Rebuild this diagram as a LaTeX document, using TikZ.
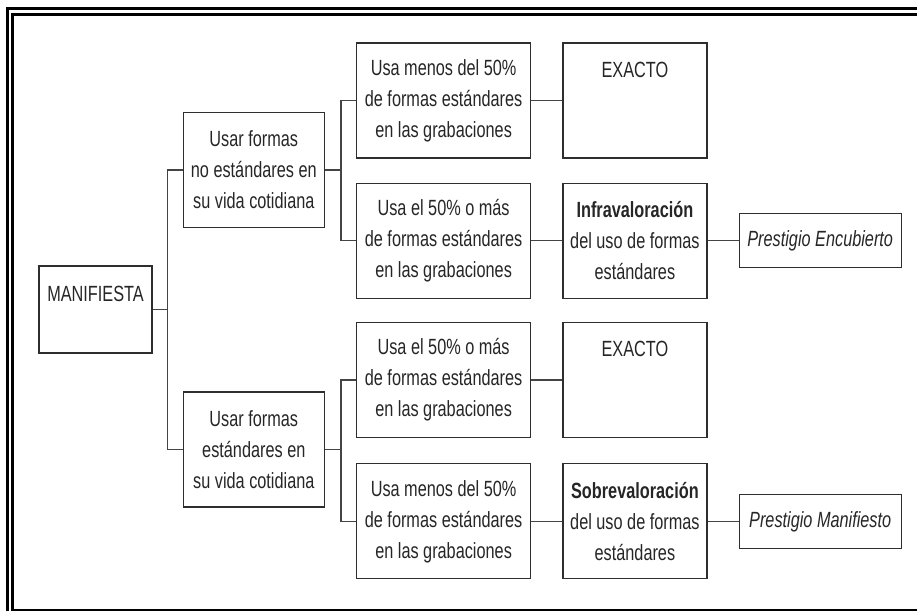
\documentclass[tikz,border=0pt]{standalone}
\usepackage{fontspec}
\setmainfont{Liberation Sans}[FakeStretch=0.74]
\usetikzlibrary{positioning}
\definecolor{boxline}{HTML}{2E2E2E}
\definecolor{wire}{HTML}{444444}

\begin{document}
\begin{tikzpicture}[x=1pt, y=-1pt, font=\fontsize{22}{31}\selectfont, text=black!85,
    box/.style={draw=boxline, line width=1.3pt, align=center, inner sep=2pt, minimum height=115pt},
    link/.style={draw=wire, line width=1.3pt},
    frame/.style={line width=3pt}]
    \useasboundingbox (0,0) rectangle (917,611);
    % marco doble
    \draw[frame] (7.5,611) -- (7.5,8) -- (917,8);
    \draw[frame] (12.5,611) -- (12.5,14.5) -- (917,14.5);
    \draw[line width=1.4pt] (12.5,610) -- (917,610);

    \node[box, minimum width=113pt, minimum height=87pt] (manif) at (95.5,309.5) {MANIFIESTA\\ \mbox{}};
    \node[box, minimum width=141pt, right=30pt of manif, yshift=139.5pt] (noest)
         {Usar formas\\ no estándares en\\ su vida cotidiana};
    \node[box, minimum width=141pt, right=30pt of manif, yshift=-140pt] (est)
         {Usar formas\\ estándares en\\ su vida cotidiana};

    \node[box, minimum width=174pt, right=31pt of noest, yshift=69.5pt] (menos1)
         {Usa menos del 50\%\\ de formas estándares\\ en las grabaciones};
    \node[box, minimum width=174pt, below=24pt of menos1] (mas1)
         {Usa el 50\% o más\\ de formas estándares\\ en las grabaciones};
    \node[box, minimum width=174pt, right=31pt of est, yshift=69.5pt] (mas2)
         {Usa el 50\% o más\\ de formas estándares\\ en las grabaciones};
    \node[box, minimum width=174pt, below=25pt of mas2] (menos2)
         {Usa menos del 50\%\\ de formas estándares\\ en las grabaciones};

    \node[box, minimum width=144pt, right=31pt of menos1] (exacto1) {EXACTO\\ \mbox{}\\ \mbox{}};
    \node[box, minimum width=144pt, right=31pt of mas1] (infra)
         {\textbf{Infravaloración}\\ del uso de formas\\ estándares};
    \node[box, minimum width=144pt, right=31pt of mas2] (exacto2) {EXACTO\\ \mbox{}\\ \mbox{}};
    \node[box, minimum width=144pt, right=31pt of menos2] (sobre)
         {\textbf{Sobrevaloración}\\ del uso de formas\\ estándares};

    \node[box, minimum width=162pt, minimum height=54pt, right=31pt of infra] (encub)
         {\textit{Prestigio Encubierto}};
    \node[box, minimum width=162pt, minimum height=54pt, right=31pt of sobre] (manifp)
         {\textit{Prestigio Manifiesto}};

    \draw[link] (manif.east) -- ++(15,0) coordinate (m0);
    \draw[link] (noest.west) -| (m0) |- (est.west);
    \draw[link] (noest.east) -- ++(16,0) coordinate (n0);
    \draw[link] (menos1.west) -| (n0) |- (mas1.west);
    \draw[link] (est.east) -- ++(16,0) coordinate (e0);
    \draw[link] (mas2.west) -| (e0) |- (menos2.west);
    \draw[link] (menos1) -- (exacto1);
    \draw[link] (mas1) -- (infra);
    \draw[link] (mas2) -- (exacto2);
    \draw[link] (menos2) -- (sobre);
    \draw[link] (infra) -- (encub);
    \draw[link] (sobre) -- (manifp);
\end{tikzpicture}
\end{document}
